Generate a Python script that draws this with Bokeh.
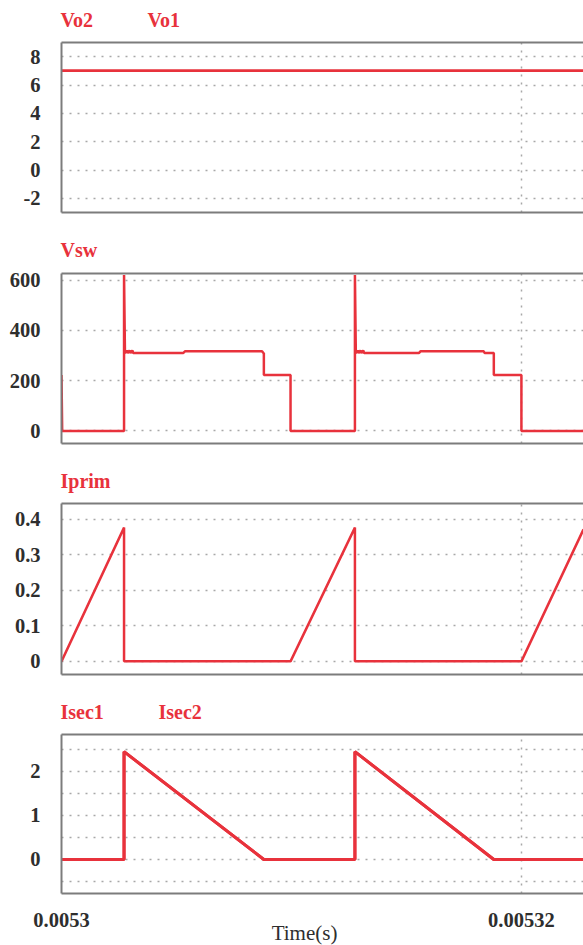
from bokeh.plotting import figure
from bokeh.layouts import column
from bokeh.models import Range1d, FixedTicker, LinearAxis, Label, CustomJSTickFormatter
from bokeh.embed import file_html
from bokeh.resources import INLINE

# ---------------- data ----------------
T0 = 0.0053            # start of window (s)
X_END_US = 22.7        # visible span (microseconds)
x_ticks = [0.0053, 0.00532]
x_tick_labels = ["0.0053", "0.00532"]

vo_t_us = [0.0, 22.7]
vo2 = [7.0, 7.0]
vo1 = [7.0, 7.0]

vsw_t_us = [0.00, 0.03, 2.72, 2.72, 2.76, 2.84, 2.88, 2.96, 3.00, 3.08, 3.12, 5.30, 5.38,
            8.72, 8.78, 8.80, 8.80, 9.96, 9.96,
            12.76, 12.76, 12.80, 12.88, 12.92, 13.00, 13.04, 13.12, 13.16, 15.55, 15.62,
            18.36, 18.40, 18.80, 18.80, 20.00, 20.00, 22.74, 22.74]
vsw = [222, 0, 0, 620, 310, 320, 310, 320, 310, 320, 310, 310, 317,
       317, 310, 310, 222, 222, 0,
       0, 620, 310, 320, 310, 320, 310, 320, 310, 310, 317,
       317, 310, 310, 222, 222, 0, 0, 620]

iprim_t_us = [0.0, 2.72, 2.72, 9.96, 12.76, 12.76, 20.0, 22.7]
iprim = [0.0, 0.377, 0.0, 0.0, 0.377, 0.0, 0.0, 0.372]

isec_t_us = [0.0, 2.72, 2.72, 8.80, 12.76, 12.76, 18.80, 22.7]
isec1 = [0.0, 0.0, 2.45, 0.0, 0.0, 2.45, 0.0, 0.0]
isec2 = [0.0, 0.0, 2.45, 0.0, 0.0, 2.45, 0.0, 0.0]

p1_yticks = [-2, 0, 2, 4, 6, 8]
p2_yticks = [0, 200, 400, 600]
p3_yticks = [0, 0.1, 0.2, 0.3, 0.4]
p4_yticks = [0, 1, 2]
p4_ygrid = [-0.5, 0, 0.5, 1, 1.5, 2, 2.5]

# ---------------- style / layout ----------------
W = 583
LEFT = 61
FRAME_W = W - LEFT
RED = "#e8323c"
FRAME = "#7c7c7c"
GRID = "#a8a8a8"
TXT = "#2e2e2e"
SERIF = "Liberation Serif"
SPAN = X_END_US * 1e-6
YFIX = 8   # text anchor compensation (px)


def to_s(us_list):
    return [T0 + u * 1e-6 for u in us_list]


yfmt = "return String(Math.round(tick*1000)/1000);"


def bare_axis(ax):
    ax.ticker = FixedTicker(ticks=[])
    ax.major_tick_line_color = None
    ax.minor_tick_line_color = None
    ax.major_tick_out = 0
    ax.major_tick_in = 0
    ax.major_label_standoff = 0
    ax.major_label_text_font_size = "0px"
    ax.axis_line_color = FRAME
    ax.axis_line_width = 2


def strip(height, x_range=None):
    s = figure(width=W, height=height,
               x_range=x_range or Range1d(0, W), y_range=Range1d(0, height),
               output_backend="svg", toolbar_location=None, min_border=0,
               x_axis_location=None, y_axis_location=None,
               outline_line_color=None, border_fill_color="white",
               background_fill_color="white")
    s.grid.visible = False
    if "frame_align" in s.properties():
        s.frame_align = False
    return s


def header(height, labels, baseline):
    s = strip(height)
    for txt, lx in labels:
        s.add_layout(Label(x=lx, y=baseline + YFIX, x_units="screen", y_units="screen",
                           text=txt, text_font=SERIF, text_font_style="bold",
                           text_font_size="20px", text_color=RED,
                           text_baseline="alphabetic"))
    return s


def panel(height, top, bottom, yr, yticks, ygrid=None):
    p = figure(width=W, height=height,
               x_range=Range1d(T0, T0 + SPAN), y_range=Range1d(*yr),
               output_backend="svg", toolbar_location=None,
               min_border_left=LEFT, min_border_right=0,
               min_border_top=top, min_border_bottom=bottom,
               outline_line_color=None, background_fill_color="white",
               border_fill_color="white")
    ya = p.yaxis[0]
    ya.ticker = FixedTicker(ticks=yticks)
    ya.formatter = CustomJSTickFormatter(code=yfmt)
    ya.major_tick_line_color = None
    ya.minor_tick_line_color = None
    ya.major_tick_out = 0
    ya.major_tick_in = 0
    ya.major_label_standoff = 21
    ya.major_label_text_font = SERIF
    ya.major_label_text_font_style = "bold"
    ya.major_label_text_font_size = "20.5px"
    ya.major_label_text_color = TXT
    ya.axis_line_color = FRAME
    ya.axis_line_width = 2
    bare_axis(p.xaxis[0])
    top_ax = LinearAxis()
    bare_axis(top_ax)
    p.add_layout(top_ax, "above")
    p.xgrid.ticker = FixedTicker(ticks=x_ticks)
    p.ygrid.ticker = FixedTicker(ticks=ygrid if ygrid is not None else yticks)
    for g in (p.xgrid[0], p.ygrid[0]):
        g.grid_line_color = GRID
        g.grid_line_dash = "2 6"
        g.grid_line_width = 1.5
    return p


h1 = header(34, [("Vo2", 60), ("Vo1", 147)], 7)
p1 = panel(206, 8, 28, (-3, 9), p1_yticks)
p1.line(to_s(vo_t_us), vo2, line_color=RED, line_width=2.5)
p1.line(to_s(vo_t_us), vo1, line_color=RED, line_width=2.5)

h2 = header(26, [("Vsw", 60)], 9)
p2 = panel(204, 7, 27, (-50, 626), p2_yticks)
p2.line(to_s(vsw_t_us), vsw, line_color=RED, line_width=2.5)

h3 = header(26, [("Iprim", 60)], 8)
p3 = panel(204, 7, 26, (-0.037, 0.445), p3_yticks)
p3.line(to_s(iprim_t_us), iprim, line_color=RED, line_width=2.5)

h4 = header(26, [("Isec1", 60), ("Isec2", 158)], 7)
p4 = panel(170, 8, 3, (-0.773, 2.84), p4_yticks, ygrid=p4_ygrid)
p4.line(to_s(isec_t_us), isec1, line_color=RED, line_width=3)
p4.line(to_s(isec_t_us), isec2, line_color=RED, line_width=3)

# footer: time axis labels, on a scale aligned with the panels' time axis
foot = strip(49, x_range=Range1d(T0 - SPAN * LEFT / FRAME_W, T0 + SPAN))
for xt, lab in zip(x_ticks, x_tick_labels):
    foot.add_layout(Label(x=xt, y=18 + YFIX, x_units="data", y_units="screen", text=lab,
                          text_font=SERIF, text_font_style="bold", text_font_size="20.5px",
                          text_color=TXT, text_align="center", text_baseline="alphabetic"))
foot.add_layout(Label(x=304, y=5 + YFIX, x_units="screen", y_units="screen", text="Time(s)",
                      text_font=SERIF, text_font_size="21px", text_color=TXT,
                      text_align="center", text_baseline="alphabetic"))

layout = column(h1, p1, h2, p2, h3, p3, h4, p4, foot, spacing=0)
open("out.html", "w").write(file_html(layout, INLINE))
